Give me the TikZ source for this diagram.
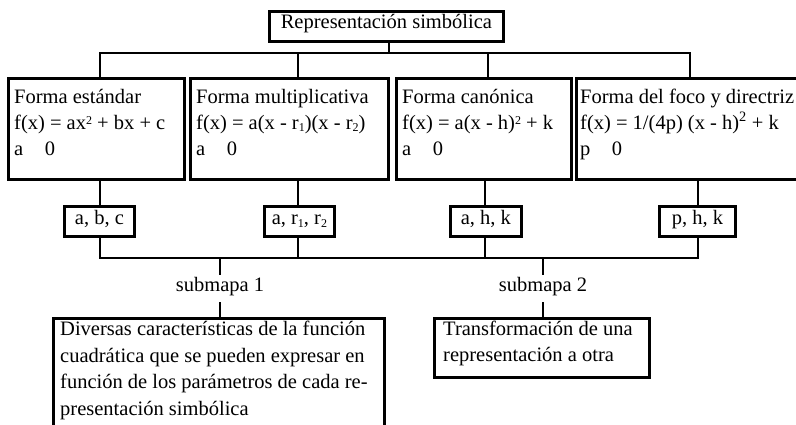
\documentclass[tikz,border=0pt]{standalone}
\usepackage{fontspec}
\setmainfont{Liberation Serif}
\newcommand{\fsz}{\fontsize{20.5pt}{26.5pt}\selectfont}
\newcommand{\sqd}{\raisebox{0.5ex}{\fontsize{12pt}{12pt}\selectfont 2}}
\newcommand{\sbs}[1]{\raisebox{-0.25ex}{\fontsize{12pt}{12pt}\selectfont #1}}
\begin{document}
\begin{tikzpicture}[x=1pt,y=-1pt,
  every node/.style={font=\fsz},
  frame/.style={draw,line width=2.8pt,inner sep=0pt,anchor=north west},
  sbox/.style={draw,line width=2.8pt,inner xsep=0pt,inner ysep=6.25pt,text height=12pt,text depth=5.5pt,anchor=north west,minimum height=30pt},
  txt/.style={inner sep=0pt,anchor=base west},
  sub/.style={inner xsep=2pt,inner ysep=0pt,text height=17pt,text depth=12pt,anchor=base},
  ln/.style={line width=2.8pt,line cap=rect}]
\clip (0,0) rectangle (796,424);
\fill[white] (0,0) rectangle (796,424);
% top box
\node[sbox,minimum width=234pt,text height=11pt,text depth=6.5pt] (top) at (268,10) {Representación simbólica};
% form boxes
\node[frame,minimum width=176pt,minimum height=101pt] (f1) at (7,77) {};
\node[frame,minimum width=198pt,minimum height=101pt] (f2) at (189,77) {};
\node[frame,minimum width=175pt,minimum height=101pt] (f3) at (395,77) {};
\node[frame,minimum width=240pt,minimum height=101pt] (f4) at (575,77) {};
\node[txt] (f1a) at (14,103) {Forma estándar};
\node[txt] (f1b) at (14,129.5) {f(x) = ax\sqd{} + bx + c};
\node[txt] (f1c) at (14,155) {a\hspace{1.05em}0};
\node[txt] (f2a) at (196,103) {Forma multiplicativa};
\node[txt] (f2b) at (196,129.5) {f(x) = a(x - r\sbs{1})(x - r\sbs{2})};
\node[txt] (f2c) at (196,155) {a\hspace{1.05em}0};
\node[txt] (f3a) at (402,103) {Forma canónica};
\node[txt] (f3b) at (402,129.5) {f(x) = a(x - h)\sqd{} + k};
\node[txt] (f3c) at (402,155) {a\hspace{1.05em}0};
\node[txt] (f4a) at (580,103) {Forma del foco y directriz};
\node[txt] (f4b) at (580,129.5) {f(x) = 1/(4p) (x - h)\textsuperscript{2} + k};
\node[txt] (f4c) at (580,155) {p\hspace{1.05em}0};
% parameter boxes
\node[sbox,minimum width=70pt] (s1) at (63,205) {a, b, c};
\node[sbox,minimum width=70pt] (s2) at (263,205) {a, r\sbs{1}, r\sbs{2}};
\node[sbox,minimum width=71pt] (s3) at (449,205) {a, h, k};
\node[sbox,minimum width=76pt] (s4) at (658,205) {p, h, k};
% bottom boxes
\node[frame,minimum width=331pt,minimum height=120pt] (d1) at (52,317) {};
\node[frame,minimum width=215pt,minimum height=59pt] (d2) at (433,317) {};
\node[txt] (d1a) at (60,335.5) {Diversas características de la función};
\node[txt] (d1b) at (60,362) {cuadrática que se pueden expresar en};
\node[txt] (d1c) at (60,388.5) {función de los parámetros de cada re-};
\node[txt] (d1d) at (60,415) {presentación simbólica};
\node[txt] (d2a) at (443,335) {Transformación de una};
\node[txt] (d2b) at (443,361.5) {representación a otra};
% submapa labels
\node[sub] (m1) at (220,291) {submapa 1};
\node[sub] (m2) at (543,291) {submapa 2};
% connectors, top level
\coordinate (j0) at (389,53);
\coordinate (h1) at (100,53);
\coordinate (h2) at (298,53);
\coordinate (h3) at (488,53);
\coordinate (h4) at (690,53);
\draw[ln] (j0 |- top.south) -- (j0);
\draw[ln] (h1) -- (h4);
\draw[ln] (h1) -- (h1 |- f1.north);
\draw[ln] (h2) -- (h2 |- f2.north);
\draw[ln] (h3) -- (h3 |- f3.north);
\draw[ln] (h4) -- (h4 |- f4.north);
% connectors, lower level
\coordinate (q1) at (100,258);
\coordinate (q2) at (298,258);
\coordinate (q3) at (485,258);
\coordinate (q4) at (698,258);
\draw[ln] (q1 |- f1.south) -- (q1 |- s1.north);
\draw[ln] (q2 |- f2.south) -- (q2 |- s2.north);
\draw[ln] (q3 |- f3.south) -- (q3 |- s3.north);
\draw[ln] (q4 |- f4.south) -- (q4 |- s4.north);
\draw[ln] (q1 |- s1.south) -- (q1);
\draw[ln] (q2 |- s2.south) -- (q2);
\draw[ln] (q3 |- s3.south) -- (q3);
\draw[ln] (q4 |- s4.south) -- (q4);
\draw[ln] (q1) -- (q4);
\coordinate (k1) at (220,258);
\coordinate (k2) at (543,258);
\draw[ln] (k1) -- (m1.north);
\draw[ln] (m1.south) -- (m1.south |- d1.north);
\draw[ln] (k2) -- (m2.north);
\draw[ln] (m2.south) -- (m2.south |- d2.north);
\end{tikzpicture}
\end{document}
